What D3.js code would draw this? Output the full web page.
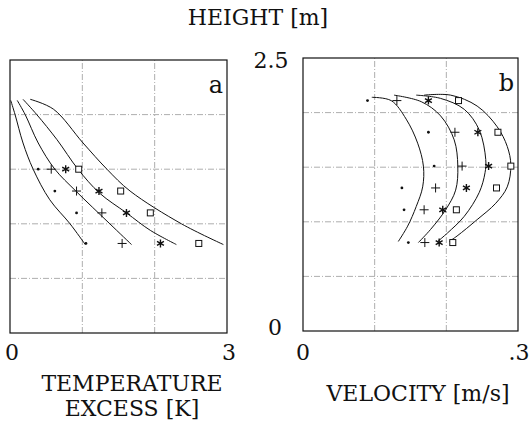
<!DOCTYPE html>
<html><head><meta charset="utf-8">
<script src="https://cdn.jsdelivr.net/npm/d3@7"></script>
<style>body{margin:0;background:#fff}svg{display:block}text{font-family:"DejaVu Serif","Liberation Serif",serif;fill:#111}</style>
</head><body><svg id="c" width="530" height="428"></svg>
<script>
// ---- data ----
const heightTicks = ["0", "2.5"];
const tempTicks = ["0", "3"];
const velTicks = ["0", ".3"];

// panel a: temperature excess [K] at heights [m]
const heightsA = [1.5, 1.3, 1.1, 0.82];
const tempDot = [0.39, 0.62, 0.92, 1.05];
const tempPlus = [0.57, 0.92, 1.27, 1.55];
const tempStar = [0.77, 1.23, 1.61, 2.08];
const tempSquare = [0.95, 1.53, 1.94, 2.61];
const curveA1 = [[0.01,2.13],[0.07,2.0],[0.18,1.74],[0.32,1.50],[0.55,1.22],[0.83,1.00],[1.04,0.81]];
const curveA2 = [[0.10,2.13],[0.21,2.0],[0.39,1.74],[0.62,1.50],[0.91,1.30],[1.38,1.00],[1.68,0.81]];
const curveA3 = [[0.18,2.14],[0.37,2.0],[0.65,1.77],[0.94,1.50],[1.24,1.28],[1.61,1.10],[1.94,0.94],[2.30,0.81]];
const curveA4 = [[0.28,2.14],[0.60,2.05],[1.01,1.74],[1.34,1.50],[1.66,1.30],[2.37,1.00],[2.95,0.81]];

// panel b: velocity [m/s] at heights [m]
const heightsB = [2.11, 1.82, 1.51, 1.31, 1.11, 0.81];
const velDot = [0.090, 0.175, 0.183, 0.138, 0.141, 0.147];
const velPlus = [0.131, 0.212, 0.222, 0.185, 0.169, 0.170];
const velStar = [0.175, 0.244, 0.259, 0.228, 0.195, 0.190];
const velSquare = [0.217, 0.272, 0.290, 0.270, 0.214, 0.209];
const curveB1 = [[0.096,2.14],[0.123,2.11],[0.144,1.94],[0.160,1.72],[0.168,1.51],[0.167,1.32],[0.158,1.14],[0.146,0.96],[0.133,0.82]];
const curveB2 = [[0.127,2.16],[0.165,2.10],[0.192,1.97],[0.211,1.75],[0.216,1.51],[0.213,1.29],[0.199,1.11],[0.178,0.93],[0.161,0.81]];
const curveB3 = [[0.158,2.16],[0.192,2.13],[0.225,2.03],[0.246,1.84],[0.255,1.57],[0.254,1.45],[0.246,1.27],[0.225,1.05],[0.202,0.90],[0.188,0.82]];
const curveB4 = [[0.169,2.16],[0.206,2.16],[0.243,2.06],[0.271,1.87],[0.285,1.69],[0.290,1.52],[0.285,1.32],[0.269,1.17],[0.243,1.02],[0.215,0.87],[0.204,0.82]];

// ---- drawing ----
const svg = d3.select("#c");
const yA = d3.scaleLinear().domain([0, 2.5]).range([333, 60]);
const yB = d3.scaleLinear().domain([0, 2.5]).range([331, 58]);
const xA = d3.scaleLinear().domain([0, 3]).range([10, 227]);
const xB = d3.scaleLinear().domain([0, 0.3]).range([303, 518]);

function panel(x, y, xGrid, curves, hs, series, letter) {
  const g = svg.append("g");
  const [x0, x1] = x.range(), [y0, y1] = y.range();
  g.selectAll(".gx").data(xGrid).join("line")
    .attr("x1", d => x(d)).attr("x2", d => x(d)).attr("y1", y0).attr("y2", y1)
    .attr("stroke", "#999").attr("stroke-width", 0.8).attr("stroke-dasharray", "6,2,1,2");
  g.selectAll(".gy").data([0.5, 1, 1.5, 2]).join("line")
    .attr("y1", d => y(d)).attr("y2", d => y(d)).attr("x1", x0).attr("x2", x1)
    .attr("stroke", "#999").attr("stroke-width", 0.8).attr("stroke-dasharray", "6,2,1,2");
  g.append("rect").attr("x", x0).attr("y", y1).attr("width", x1 - x0).attr("height", y0 - y1)
    .attr("fill", "none").attr("stroke", "#111").attr("stroke-width", 1.2);
  const line = d3.line().x(d => x(d[0])).y(d => y(d[1])).curve(d3.curveCatmullRom.alpha(0.5));
  curves.forEach(c => g.append("path").attr("d", line(c)).attr("fill", "none")
    .attr("stroke", "#111").attr("stroke-width", 1));
  const [dots, pluses, stars, squares] = series;
  hs.forEach((h, i) => {
    const py = y(h);
    g.append("circle").attr("cx", x(dots[i])).attr("cy", py).attr("r", 1.4).attr("fill", "#111");
    const px = x(pluses[i]);
    g.append("path").attr("d", `M${px-4.5},${py}H${px+4.5}M${px},${py-4.5}V${py+4.5}`)
      .attr("stroke", "#111").attr("stroke-width", 1);
    const sx = x(stars[i]), r = 4, a = r * Math.cos(Math.PI / 6), b = r * 0.5;
    g.append("path").attr("d", `M${sx},${py-r}V${py+r}M${sx-a},${py-b}L${sx+a},${py+b}M${sx-a},${py+b}L${sx+a},${py-b}`)
      .attr("stroke", "#111").attr("stroke-width", 1.4);
    const qx = x(squares[i]);
    g.append("rect").attr("x", qx - 3).attr("y", py - 3).attr("width", 6).attr("height", 6)
      .attr("fill", "#fff").attr("stroke", "#111").attr("stroke-width", 1);
  });
  g.append("text").attr("x", x1 - 4).attr("y", y1 + 33).attr("text-anchor", "end")
    .attr("font-size", 24).text(letter);
}

panel(xA, yA, [1, 2], [curveA1, curveA2, curveA3, curveA4], heightsA,
  [tempDot, tempPlus, tempStar, tempSquare], "a");
panel(xB, yB, [0.1, 0.2], [curveB1, curveB2, curveB3, curveB4], heightsB,
  [velDot, velPlus, velStar, velSquare], "b");

const fs = 22;
function label(x, y, t) {
  svg.append("text").attr("x", x).attr("y", y).attr("text-anchor", "middle").attr("font-size", fs).text(t);
}
label(258, 25, "HEIGHT [m]");
label(271, 68, heightTicks[1]);
label(275, 335, heightTicks[0]);
label(xA(0) + 2, 360, tempTicks[0]);
label(xA(3) + 2, 360, tempTicks[1]);
label(xB(0), 360, velTicks[0]);
label(xB(0.3) + 1, 360, velTicks[1]);
label(132, 391, "TEMPERATURE");
label(132, 416, "EXCESS [K]");
label(418, 401, "VELOCITY [m/s]");
</script></body></html>
